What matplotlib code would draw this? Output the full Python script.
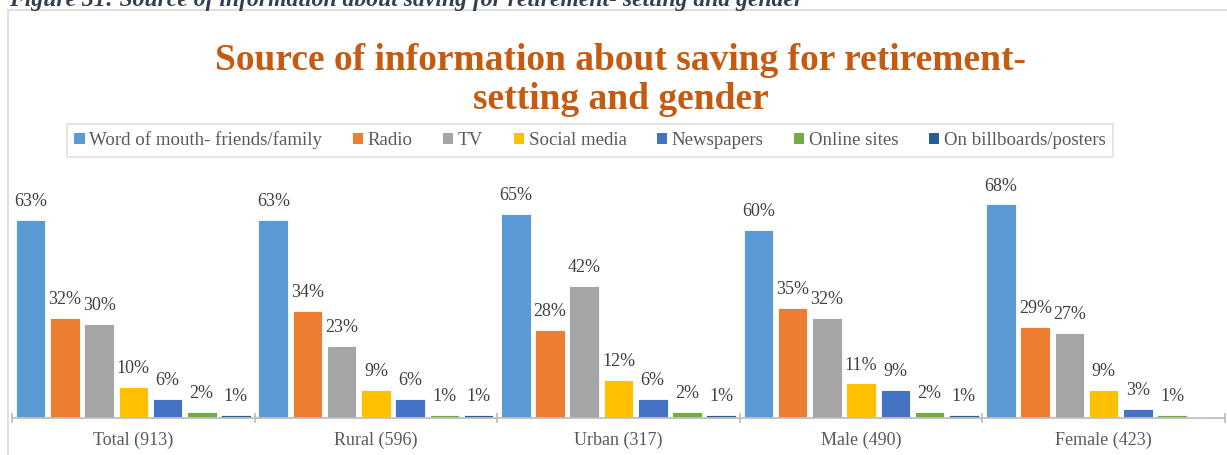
import matplotlib
matplotlib.use("Agg")
import matplotlib.pyplot as plt
from matplotlib.patches import Rectangle, Patch
import numpy as np

# Survey groups and share of respondents per information source (%)
groups = ["Total (913)", "Rural (596)", "Urban (317)", "Male (490)", "Female (423)"]
sources = ["Word of mouth- friends/family", "Radio", "TV", "Social media",
           "Newspapers", "Online sites", "On billboards/posters"]
word_of_mouth = [63, 63, 65, 60, 68]
radio = [32, 34, 28, 35, 29]
tv = [30, 23, 42, 32, 27]
social_media = [10, 9, 12, 11, 9]
newspapers = [6, 6, 6, 9, 3]
online_sites = [2, 1, 2, 2, 1]
billboards = [1, 1, 1, 1, 0]

series = [word_of_mouth, radio, tv, social_media, newspapers, online_sites, billboards]
colors = ["#5B9BD5", "#ED7D31", "#A5A5A5", "#FFC000", "#4472C4", "#70AD47", "#255E91"]

W, H = 1227, 455
fig = plt.figure(figsize=(W / 100, H / 100), dpi=100)
plt.rcParams["font.family"] = ["Liberation Serif", "DejaVu Serif"]

# chart frame
fig.patches.append(Rectangle((8 / W, -0.1), 1.2, 1 - 10 / H + 0.1,
                             transform=fig.transFigure, fill=False,
                             edgecolor="#D9D9D9", linewidth=1.2))

# caption above the chart frame
fig.text(9 / W, 1 - 6 / H, "Figure 31: Source of information about saving for retirement- setting and gender",
         fontsize=17, fontweight="bold", fontstyle="italic", color="#333F50",
         ha="left", va="baseline")

# title
title_color = "#C55A11"
fig.text(621 / W, 1 - 70 / H, "Source of information about saving for retirement-",
         fontsize=27, fontweight="bold", color=title_color, ha="center", va="baseline")
fig.text(621 / W, 1 - 109 / H, "setting and gender",
         fontsize=27, fontweight="bold", color=title_color, ha="center", va="baseline")

ax_left, ax_right = 12 / W, 1225 / W
ax_bottom, ax_top = 1 - 418 / H, 1 - 180 / H
ax = fig.add_axes([ax_left, ax_bottom, ax_right - ax_left, ax_top - ax_bottom])

x = np.arange(len(groups))
step = 0.141
width = 0.122
for i, (vals, col) in enumerate(zip(series, colors)):
    pos = x + (i - 3) * step
    bars = ax.bar(pos, vals, width=width, color=col, edgecolor="white", linewidth=0.6, zorder=2)
    for b, v in zip(bars, vals):
        if v > 0:
            ax.annotate(f"{v}%", (b.get_x() + b.get_width() / 2, v),
                        xytext=(0, 10), textcoords="offset points",
                        ha="center", va="baseline", fontsize=13, color="#404040")

ax.set_xlim(-0.5, len(groups) - 0.5)
ax.set_ylim(0, 75.8)
ax.set_facecolor("none")
for s in ["left", "right", "top"]:
    ax.spines[s].set_visible(False)
ax.spines["bottom"].set_color("#BFBFBF")
ax.spines["bottom"].set_linewidth(1.3)
ax.set_yticks([])

ax.set_xticks(x)
ax.set_xticklabels(groups, fontsize=13, color="#595959")
ax.tick_params(axis="x", which="major", length=0, pad=10)
ax.set_xticks(np.arange(-0.5, len(groups)), minor=True)
ax.tick_params(axis="x", which="minor", direction="inout", length=7, width=1.3, color="#BFBFBF")

handles = [Patch(facecolor=c, edgecolor="none", label=s) for s, c in zip(sources, colors)]
leg = fig.legend(handles=handles, loc="center", bbox_to_anchor=(590 / W, 1 - 140.5 / H),
                 ncol=7, fontsize=13.6, frameon=True, fancybox=False,
                 handlelength=0.55, handleheight=0.55, handletextpad=0.25,
                 columnspacing=1.6, borderpad=0.4, labelcolor="#595959")
leg.get_frame().set_edgecolor("#D9D9D9")
leg.get_frame().set_linewidth(1.2)

fig.savefig("out.png", dpi=100)
